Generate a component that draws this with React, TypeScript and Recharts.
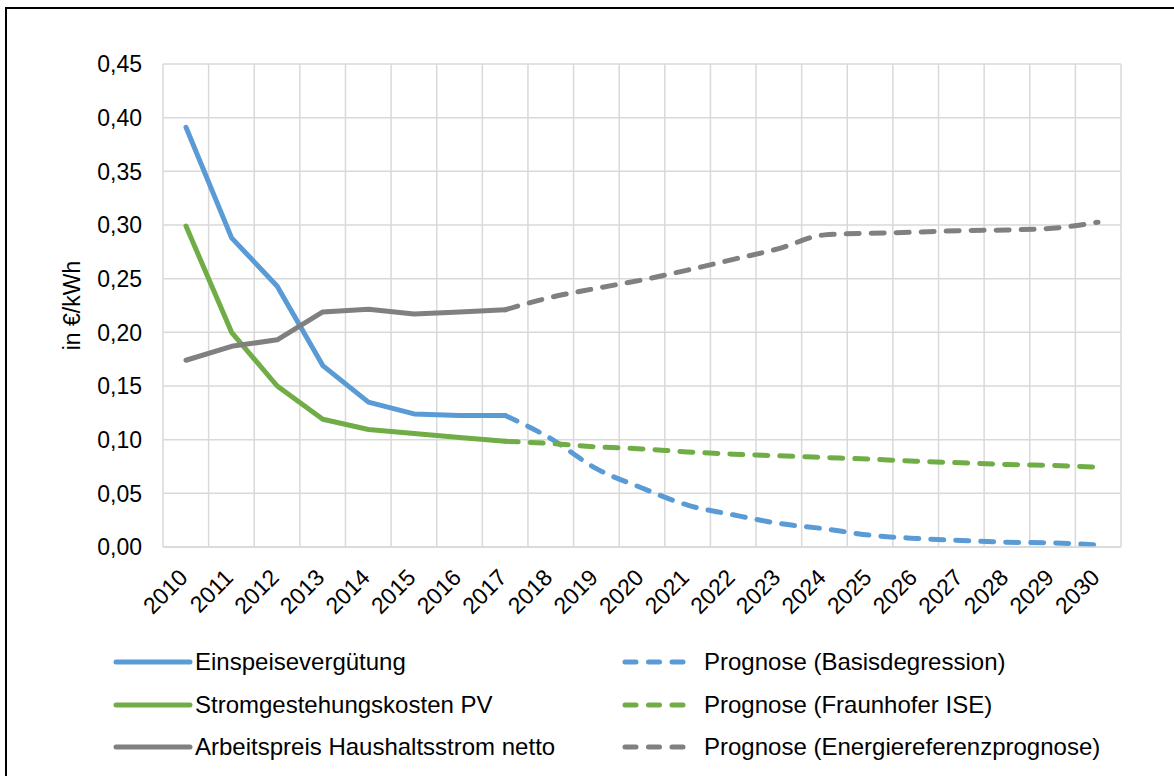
import React from 'react';
import { LineChart, Line, XAxis, YAxis, CartesianGrid, Legend } from 'recharts';

const years = ['2010', '2011', '2012', '2013', '2014', '2015', '2016', '2017', '2018', '2019', '2020',
  '2021', '2022', '2023', '2024', '2025', '2026', '2027', '2028', '2029', '2030'];

const einspeiseverguetung = [0.391, 0.288, 0.243, 0.169, 0.135, 0.124, 0.1226, 0.1226,
  null, null, null, null, null, null, null, null, null, null, null, null, null];
const prognoseBasisdegression = [null, null, null, null, null, null, null, 0.1226,
  0.101, 0.073, 0.055, 0.039, 0.030, 0.022, 0.017, 0.011, 0.008, 0.006, 0.0045, 0.0038, 0.002];

const stromgestehungskosten = [0.299, 0.200, 0.150, 0.119, 0.1095, 0.1058, 0.102, 0.0985,
  null, null, null, null, null, null, null, null, null, null, null, null, null];
const prognoseFraunhofer = [null, null, null, null, null, null, null, 0.0985,
  0.0964, 0.0933, 0.0914, 0.0886, 0.0865, 0.085, 0.0834, 0.0818, 0.080, 0.0784, 0.0769, 0.076, 0.0744];

const arbeitspreis = [0.174, 0.187, 0.193, 0.219, 0.2215, 0.217, 0.219, 0.221,
  null, null, null, null, null, null, null, null, null, null, null, null, null];
const prognoseEnergiereferenz = [null, null, null, null, null, null, null, 0.221,
  0.2326, 0.241, 0.2488, 0.258, 0.268, 0.278, 0.2908, 0.2923, 0.2933, 0.2948, 0.2954, 0.297, 0.3026];

const yTicks = [0, 0.05, 0.1, 0.15, 0.2, 0.25, 0.3, 0.35, 0.4, 0.45];

const seriesNames = {
  e: 'Einspeisevergütung',
  s: 'Stromgestehungskosten PV',
  a: 'Arbeitspreis Haushaltsstrom netto',
  ep: 'Prognose (Basisdegression)',
  sp: 'Prognose (Fraunhofer ISE)',
  ap: 'Prognose (Energiereferenzprognose)',
};

const BLUE = '#5B9BD5';
const GREEN = '#70AD47';
const GRAY = '#808080';
const GRID = '#D9D9D9';
const FONT = '"Liberation Sans", Arial, sans-serif';
const FS = 23;
const LFS = 24;
const SW = 5;
const DASH = '13 12';

const data = years.map((year, i) => ({
  year,
  e: einspeiseverguetung[i],
  ep: prognoseBasisdegression[i],
  s: stromgestehungskosten[i],
  sp: prognoseFraunhofer[i],
  a: arbeitspreis[i],
  ap: prognoseEnergiereferenz[i],
}));

const legendItems = [
  { key: 'e', color: BLUE, dashed: false, col: 0, row: 0 },
  { key: 's', color: GREEN, dashed: false, col: 0, row: 1 },
  { key: 'a', color: GRAY, dashed: false, col: 0, row: 2 },
  { key: 'ep', color: BLUE, dashed: true, col: 1, row: 0 },
  { key: 'sp', color: GREEN, dashed: true, col: 1, row: 1 },
  { key: 'ap', color: GRAY, dashed: true, col: 1, row: 2 },
];

const LegendContent = () => {
  const rowY = [36, 79, 121];
  return (
    <svg width={1174} height={150} style={{ display: 'block' }}>
      {legendItems.map((it) => {
        const y = rowY[it.row];
        const x0 = it.col === 0 ? 116 : 625;
        const x1 = it.col === 0 ? 190 : 683;
        const tx = it.col === 0 ? 195 : 704;
        return (
          <g key={it.key}>
            <line x1={x0} x2={x1} y1={y} y2={y} stroke={it.color} strokeWidth={SW}
              strokeLinecap="round" strokeDasharray={it.dashed ? '11 12.5' : undefined} />
            <text x={tx} y={y} dy="0.35em" fontSize={LFS} fontFamily={FONT} fill="#000">
              {seriesNames[it.key]}
            </text>
          </g>
        );
      })}
    </svg>
  );
};

const YTick = (props: any) => {
  const { x, y, payload } = props;
  return (
    <text x={x} y={y} dy="0.36em" textAnchor="end" fontSize={FS} fontFamily={FONT} fill="#000">
      {Number(payload.value).toFixed(2).replace('.', ',')}
    </text>
  );
};

const XTick = (props: any) => {
  const { x, y, payload } = props;
  return (
    <text transform={`translate(${x + 3},${y + 32}) rotate(-45)`} textAnchor="end"
      fontSize={FS} fontFamily={FONT} fill="#000">
      {payload.value}
    </text>
  );
};

const verticalGen = ({ offset }: any) => {
  const n = years.length;
  const out: number[] = [];
  for (let i = 0; i <= n; i++) out.push(offset.left + (offset.width * i) / n);
  return out;
};

export default function App() {
  return (
    <div style={{ position: 'absolute', left: 0, top: 0, width: 1174, height: 776, overflow: 'hidden', background: '#fff' }}>
      <div style={{ position: 'absolute', left: 5, top: 7, width: 1300, height: 900, border: '2px solid #000', boxSizing: 'border-box' }} />
      <div style={{ position: 'absolute', left: 0, top: 0 }}>
        <LineChart width={1174} height={776} data={data}
          margin={{ top: 64, right: 53, bottom: 0, left: 0 }}>
          <CartesianGrid stroke={GRID} strokeWidth={1.5} verticalCoordinatesGenerator={verticalGen} />
          <XAxis dataKey="year" height={79} padding={{ left: 23, right: 23 }} interval={0}
            axisLine={{ stroke: GRID, strokeWidth: 1.5 }} tickLine={false} tickSize={0} tickMargin={0}
            tick={<XTick />} />
          <YAxis width={163} domain={[0, 0.45]} ticks={yTicks} axisLine={false} tickLine={false}
            tickSize={0} tickMargin={21} tick={<YTick />}
            label={{
              content: (p: any) => {
                const vb = p.viewBox;
                const cx = vb.x + 72;
                const cy = vb.y + vb.height / 2;
                return (
                  <text x={cx} y={cy} transform={`rotate(-90, ${cx}, ${cy})`} textAnchor="middle"
                    dy="0.35em" fontSize={FS} fontFamily={FONT} fill="#000">in €/kWh</text>
                );
              },
            }} />
          <Legend verticalAlign="bottom" wrapperStyle={{ left: 0, width: 1174, height: 150 }}
            content={<LegendContent />} />
          <Line dataKey="e" name={seriesNames.e} stroke={BLUE} strokeWidth={SW} dot={false}
            type="linear" strokeLinejoin="round" strokeLinecap="round" isAnimationActive={false} />
          <Line dataKey="s" name={seriesNames.s} stroke={GREEN} strokeWidth={SW} dot={false}
            type="linear" strokeLinejoin="round" strokeLinecap="round" isAnimationActive={false} />
          <Line dataKey="a" name={seriesNames.a} stroke={GRAY} strokeWidth={SW} dot={false}
            type="linear" strokeLinejoin="round" strokeLinecap="round" isAnimationActive={false} />
          <Line dataKey="ep" name={seriesNames.ep} stroke={BLUE} strokeWidth={SW} dot={false}
            type="monotone" strokeDasharray={DASH} strokeLinecap="round" isAnimationActive={false} />
          <Line dataKey="sp" name={seriesNames.sp} stroke={GREEN} strokeWidth={SW} dot={false}
            type="monotone" strokeDasharray={DASH} strokeLinecap="round" isAnimationActive={false} />
          <Line dataKey="ap" name={seriesNames.ap} stroke={GRAY} strokeWidth={SW} dot={false}
            type="monotone" strokeDasharray={DASH} strokeLinecap="round" isAnimationActive={false} />
        </LineChart>
      </div>
    </div>
  );
}
